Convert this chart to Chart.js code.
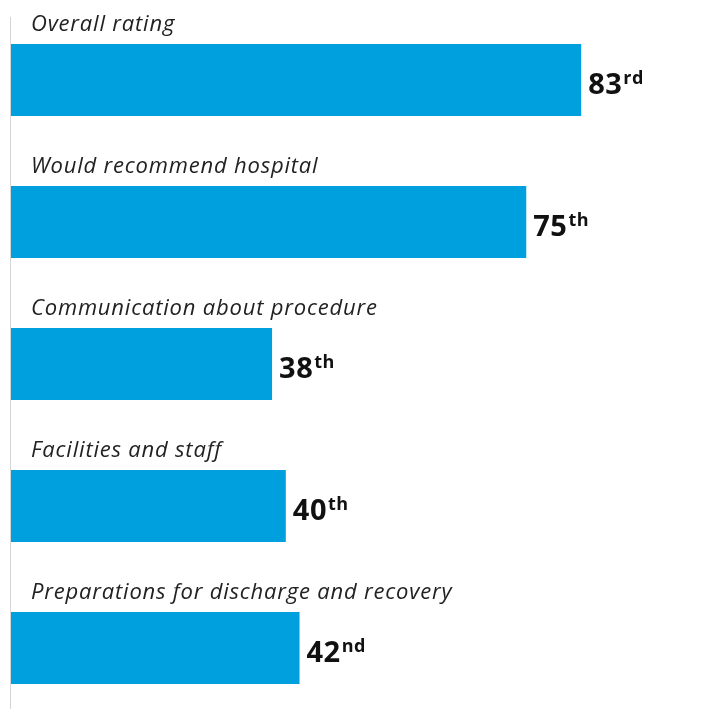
<!DOCTYPE html>
<html>
<head>
<meta charset="utf-8">
<script src="https://cdn.jsdelivr.net/npm/chart.js@4.4.1/dist/chart.umd.min.js"></script>
<style>
  html, body { margin: 0; padding: 0; background: #fff; overflow: hidden; }
  #wrap { position: absolute; left: 0; top: 0; width: 713px; height: 720px; }
</style>
</head>
<body>
<div id="wrap"><canvas id="chart"></canvas></div>
<script>
const categories = [
  'Overall rating',
  'Would recommend hospital',
  'Communication about procedure',
  'Facilities and staff',
  'Preparations for discharge and recovery'
];
const percentiles = [83, 75, 38, 40, 42];
const suffixes = ['rd', 'th', 'th', 'th', 'nd'];

// labels above bars + rank text after each bar
const rankLabels = {
  id: 'rankLabels',
  afterDatasetsDraw(chart) {
    const ctx = chart.ctx;
    const area = chart.chartArea;
    const meta = chart.getDatasetMeta(0);
    ctx.save();
    // thin axis line on the left
    ctx.strokeStyle = '#d4d4d4';
    ctx.lineWidth = 1;
    ctx.beginPath();
    ctx.moveTo(area.left - 0.5, 17);
    ctx.lineTo(area.left - 0.5, area.bottom);
    ctx.stroke();

    meta.data.forEach((bar, i) => {
      ctx.textBaseline = 'alphabetic';
      ctx.textAlign = 'left';
      ctx.fillStyle = '#222';
      ctx.font = 'italic 22px "Open Sans"';
      ctx.letterSpacing = '0.8px';
      ctx.fillText(categories[i], area.left + 20, bar.y - 49);

      ctx.fillStyle = '#111';
      ctx.letterSpacing = '0.5px';
      ctx.font = 'bold 29px "Open Sans"';
      const num = String(percentiles[i]);
      ctx.fillText(num, bar.x + 7, bar.y + 14);
      const w = ctx.measureText(num).width;
      ctx.font = 'bold 18px "Open Sans"';
      ctx.fillText(suffixes[i], bar.x + 8 + w, bar.y + 4);
    });
    ctx.restore();
  }
};

new Chart(document.getElementById('chart'), {
  type: 'bar',
  data: {
    labels: categories,
    datasets: [{
      data: percentiles,
      backgroundColor: '#00a0df',
      borderWidth: 0,
      categoryPercentage: 1,
      barPercentage: 72 / 142
    }]
  },
  options: {
    indexAxis: 'y',
    responsive: true,
    maintainAspectRatio: false,
    animation: false,
    layout: { padding: { left: 11, right: 15, top: 9, bottom: 1 } },
    plugins: {
      legend: { display: false },
      tooltip: { enabled: false }
    },
    scales: {
      x: { min: 0, max: 100, display: false },
      y: { display: false }
    }
  },
  plugins: [rankLabels]
});
</script>
</body>
</html>
